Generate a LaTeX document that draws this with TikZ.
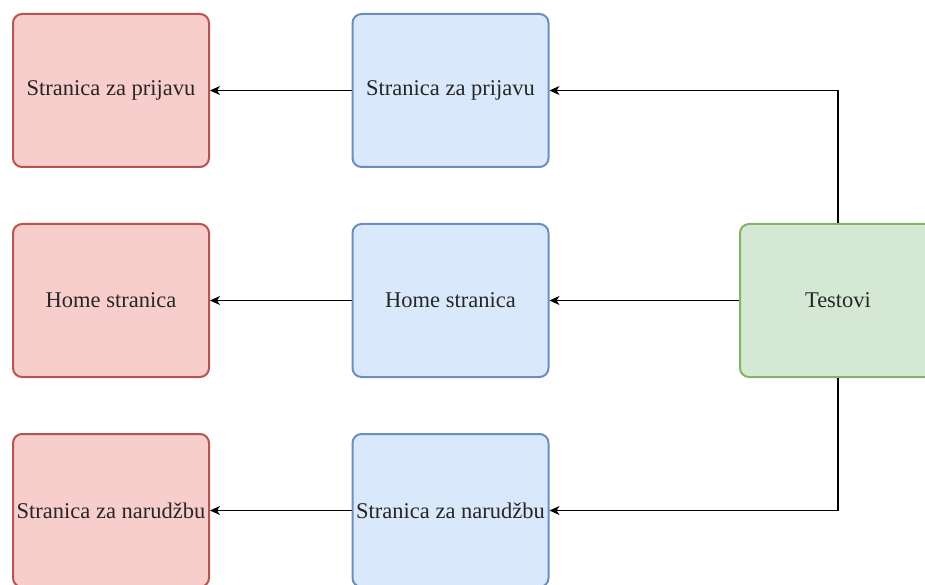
\documentclass[tikz,border=0pt]{standalone}
\usepackage{fontspec}
\setmainfont{Liberation Serif}
\usetikzlibrary{arrows.meta}
\definecolor{redfill}{HTML}{F8CECC}
\definecolor{redline}{HTML}{B85450}
\definecolor{bluefill}{HTML}{DAE8FC}
\definecolor{blueline}{HTML}{6C8EBF}
\definecolor{greenfill}{HTML}{D5E8D4}
\definecolor{greenline}{HTML}{82B366}
\tikzset{
  box/.style={rectangle, rounded corners=9pt, line width=2pt, minimum width=196pt, minimum height=153pt, inner sep=0pt, font=\fontsize{22.5}{26}\selectfont, text=black!85},
  redbox/.style={box, fill=redfill, draw=redline},
  bluebox/.style={box, fill=bluefill, draw=blueline},
  greenbox/.style={box, fill=greenfill, draw=greenline},
  arr/.style={line width=1.2pt, -{Stealth[length=10pt,width=9pt,inset=3pt]}}
}
\begin{document}
\begin{tikzpicture}[x=1pt,y=-1pt]
\useasboundingbox (0,0) rectangle (925,585);
\clip (0,0) rectangle (925,585);
\node[redbox] (r1) at (111,90.5) {Stranica za prijavu};
\node[redbox] (r2) at (111,300.5) {Home stranica};
\node[redbox] (r3) at (111,510.5) {Stranica za narudžbu};
\node[bluebox] (b1) at (450.5,90.5) {Stranica za prijavu};
\node[bluebox] (b2) at (450.5,300.5) {Home stranica};
\node[bluebox] (b3) at (450.5,510.5) {Stranica za narudžbu};
\node[greenbox] (g) at (838,300.5) {Testovi};
\draw[arr] (b1.west) -- (r1.east);
\draw[arr] (b2.west) -- (r2.east);
\draw[arr] (b3.west) -- (r3.east);
\draw[arr] (g.north) |- (b1.east);
\draw[arr] (g.west) -- (b2.east);
\draw[arr] (g.south) |- (b3.east);
\end{tikzpicture}
\end{document}
